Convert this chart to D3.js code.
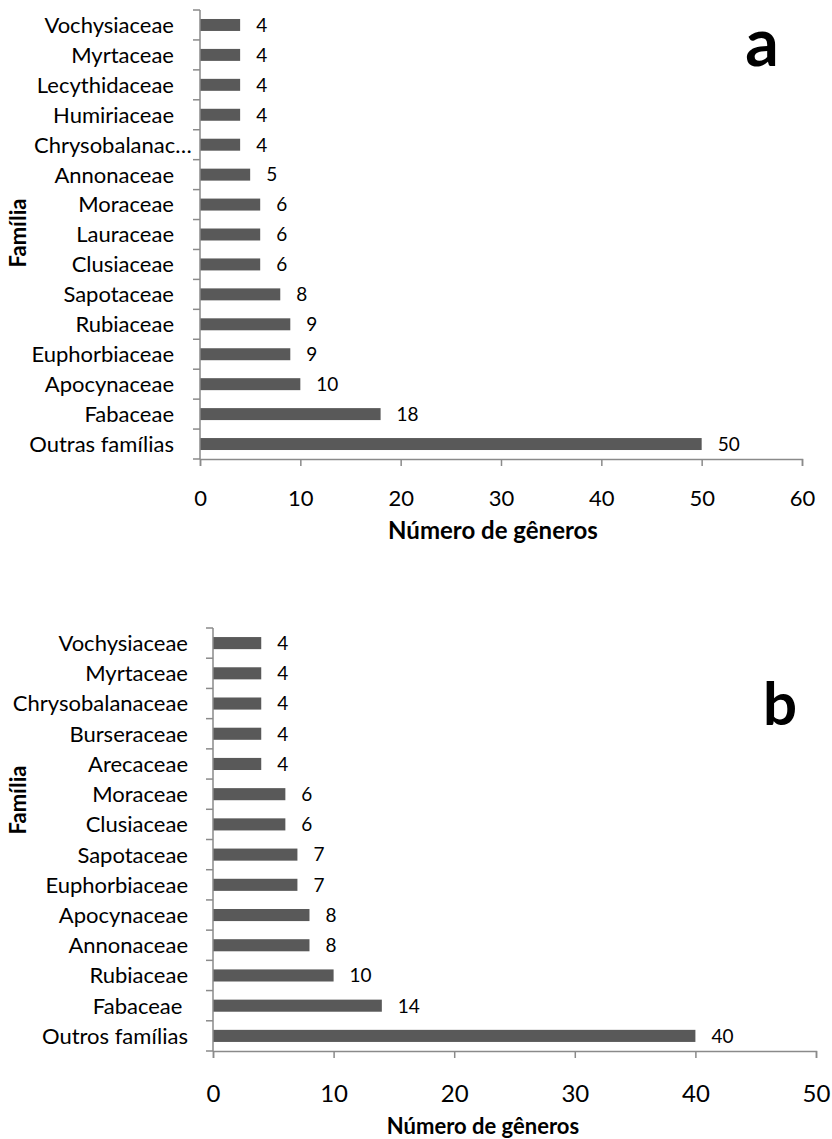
<!DOCTYPE html>
<html>
<head>
<meta charset="utf-8">
<script src="https://cdn.jsdelivr.net/npm/d3@7"></script>
<style>
  html, body { margin: 0; padding: 0; background: #fff; }
  svg { display: block; }
  text { font-family: Lato, "Open Sans", sans-serif; fill: #000; }
</style>
</head>
<body>
<svg id="fig" width="832" height="1139"></svg>
<script>
// Panel a: number of genera per family (first entry is drawn at the bottom)
const familiesA = ["Outras famílias", "Fabaceae", "Apocynaceae", "Euphorbiaceae", "Rubiaceae",
  "Sapotaceae", "Clusiaceae", "Lauraceae", "Moraceae", "Annonaceae",
  "Chrysobalanac…", "Humiriaceae", "Lecythidaceae", "Myrtaceae", "Vochysiaceae"];
const generaA = [50, 18, 10, 9, 9, 8, 6, 6, 6, 5, 4, 4, 4, 4, 4];
const xTicksA = [0, 10, 20, 30, 40, 50, 60];

// Panel b
const familiesB = ["Outros famílias", "Fabaceae ", "Rubiaceae", "Annonaceae", "Apocynaceae",
  "Euphorbiaceae", "Sapotaceae", "Clusiaceae", "Moraceae", "Arecaceae",
  "Burseraceae", "Chrysobalanaceae", "Myrtaceae", "Vochysiaceae"];
const generaB = [40, 14, 10, 8, 8, 7, 7, 6, 6, 4, 4, 4, 4, 4];
const xTicksB = [0, 10, 20, 30, 40, 50];

const svg = d3.select("#fig");
const AXIS = "#8a8a8a", BAR = "#595959";

function panel(cfg) {
  const g = svg.append("g");
  const n = cfg.families.length;
  const x = d3.scaleLinear().domain([0, d3.max(cfg.ticks)]).range([cfg.left, cfg.right]);
  const y = d3.scaleBand().domain(d3.range(n).reverse())
    .range([cfg.top, cfg.bottom]).paddingInner(0.6).paddingOuter(0.3);

  // bars
  g.selectAll("rect.bar").data(cfg.values).join("rect")
    .attr("class", "bar")
    .attr("x", x(0))
    .attr("y", (d, i) => y(i))
    .attr("width", d => x(d) - x(0))
    .attr("height", y.bandwidth())
    .attr("fill", BAR);

  // value labels
  g.selectAll("text.val").data(cfg.values).join("text")
    .attr("class", "val")
    .attr("x", d => x(d) + 16)
    .attr("y", (d, i) => y(i) + y.bandwidth() / 2)
    .attr("dy", "0.36em")
    .style("font-size", cfg.valSize + "px")
    .text(d => d);

  // category axis: labels from the band scale, tick marks on band boundaries
  const yAxis = g.append("g")
    .attr("transform", `translate(${cfg.left},0)`)
    .call(d3.axisLeft(y).tickSize(0).tickPadding(cfg.labelPad)
      .tickFormat(i => cfg.families[i]));
  yAxis.select(".domain").remove();
  yAxis.selectAll("text")
    .attr("xml:space", "preserve")
    .attr("dy", "0.36em")
    .style("font-size", cfg.catSize + "px")
    .style("font-family", "Lato, sans-serif");
  // a shortened label fills the whole label area, starting at its left edge
  yAxis.selectAll("text")
    .filter(function () { return this.textContent.endsWith("…"); })
    .attr("text-anchor", "start")
    .attr("x", cfg.labelAreaLeft - cfg.left);

  const step = y.step();
  g.selectAll("line.ctick").data(d3.range(n + 1)).join("line")
    .attr("class", "ctick")
    .attr("x1", cfg.left - 7).attr("x2", cfg.left)
    .attr("y1", d => cfg.top + d * step).attr("y2", d => cfg.top + d * step)
    .attr("stroke", AXIS).attr("stroke-width", 1.5);
  g.append("line")
    .attr("x1", cfg.left).attr("x2", cfg.left)
    .attr("y1", cfg.top).attr("y2", cfg.bottom)
    .attr("stroke", AXIS).attr("stroke-width", 1.5);

  // value axis
  const xAxis = g.append("g")
    .attr("transform", `translate(0,${cfg.bottom})`)
    .call(d3.axisBottom(x).tickValues(cfg.ticks).tickSize(7).tickFormat(d3.format("d")));
  xAxis.select(".domain").attr("stroke", AXIS).attr("stroke-width", 1.5);
  xAxis.selectAll(".tick line").attr("stroke", AXIS).attr("stroke-width", 1.5);
  xAxis.selectAll("text")
    .attr("y", cfg.tickTextOffset).attr("dy", "0.36em")
    .style("font-size", cfg.tickSize + "px")
    .style("font-family", "Lato, sans-serif");

  // axis titles
  g.append("text")
    .attr("x", cfg.xTitleX).attr("y", cfg.xTitleY)
    .attr("text-anchor", "middle").attr("dy", "0.36em")
    .style("font-size", cfg.xTitleSize + "px").style("font-weight", 700)
    .text("Número de gêneros");
  g.append("text")
    .attr("transform", `translate(18,${cfg.yTitleY}) rotate(-90)`)
    .attr("text-anchor", "middle").attr("dy", "0.36em")
    .style("font-size", "22px").style("font-weight", 700)
    .text("Família");

  // panel letter
  g.append("text")
    .attr("x", cfg.letterX).attr("y", cfg.letterY)
    .attr("text-anchor", "middle")
    .style("font-size", cfg.letterSize + "px").style("font-weight", 700)
    .text(cfg.letter);
}

panel({
  families: familiesA, values: generaA, ticks: xTicksA,
  left: 200, right: 802, top: 10, bottom: 459, labelAreaLeft: 34,
  labelPad: 26, catSize: 22, valSize: 19, tickSize: 22, tickTextOffset: 39,
  xTitleX: 493, xTitleY: 530, xTitleSize: 24, yTitleY: 233,
  letter: "a", letterX: 762, letterY: 66, letterSize: 66
});

panel({
  families: familiesB, values: generaB, ticks: xTicksB,
  left: 213, right: 816, top: 628, bottom: 1051, labelAreaLeft: 10,
  labelPad: 25, catSize: 22, valSize: 19, tickSize: 24, tickTextOffset: 42,
  xTitleX: 483, xTitleY: 1126, xTitleSize: 22, yTitleY: 800,
  letter: "b", letterX: 780, letterY: 725, letterSize: 60
});
</script>
</body>
</html>
